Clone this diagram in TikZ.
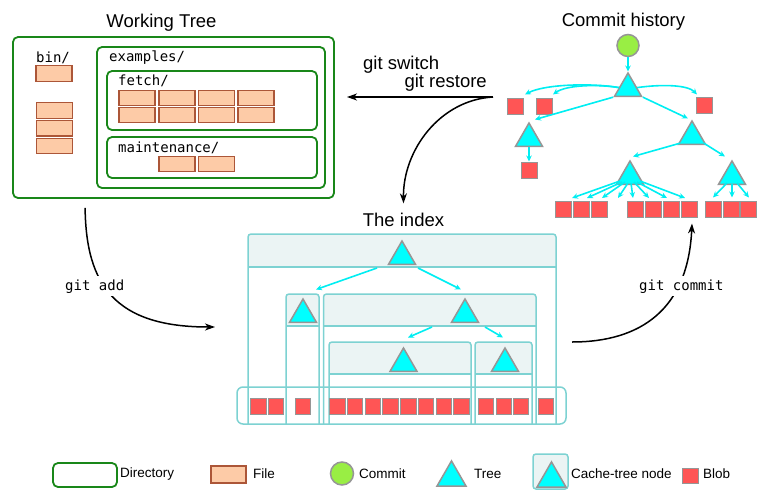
\documentclass[tikz,border=0pt]{standalone}
\usepackage{fontspec}
\setmainfont{Liberation Sans}
\newfontfamily\monof{DejaVu Sans Mono}
\usetikzlibrary{arrows.meta,shapes.geometric,calc}

\definecolor{dirgreen}{RGB}{25,135,25}
\definecolor{filefill}{RGB}{253,203,167}
\definecolor{filedraw}{RGB}{172,86,56}
\definecolor{blobred}{RGB}{255,85,85}
\definecolor{shapegrey}{RGB}{150,150,150}
\definecolor{treecyan}{RGB}{0,255,255}
\definecolor{arrowcyan}{RGB}{0,238,242}
\definecolor{cachedraw}{RGB}{125,210,210}
\definecolor{cachefill}{RGB}{235,244,244}
\definecolor{commitgreen}{RGB}{153,238,68}

\newcommand\mycachebox[4]{%
  \fill[white] (#1,#2) rectangle (#3,424);
  \fill[cachefill,rounded corners=3pt] (#1,#4) -- (#1,#2) -- (#3,#2) -- (#3,#4);
  \draw[cachebox,rounded corners=3pt] (#1,424) -- (#1,#2) -- (#3,#2) -- (#3,424);
  \draw[cachebox] (#1,#4) -- (#3,#4);
}

\begin{document}
\begin{tikzpicture}[x=1pt,y=-1pt,
  dirbox/.style={draw=dirgreen, line width=1.8pt, rounded corners=5pt, inner sep=0pt},
  filebox/.style={draw=filedraw, fill=filefill, line width=1.2pt, minimum width=36pt, minimum height=15.5pt, inner sep=0pt},
  blob/.style={draw=shapegrey, fill=blobred, line width=1pt, minimum size=16pt, inner sep=0pt},
  iblob/.style={blob, minimum size=15.5pt},
  tri/.style={regular polygon, regular polygon sides=3, draw=shapegrey, fill=treecyan, line width=1.5pt, minimum size=31.2pt, inner sep=0pt},
  commitnode/.style={circle, draw=shapegrey, fill=commitgreen, line width=1.5pt, minimum size=22pt, inner sep=0pt},
  carrow/.style={draw=arrowcyan, line width=1.6pt, -{Stealth[length=6pt,width=5.5pt]}},
  karrow/.style={draw=black, line width=1.5pt, -{Stealth[length=10pt,width=7pt,inset=3pt]}},
  title/.style={font=\fontsize{18.5}{20}\selectfont, inner sep=0pt, anchor=base},
  mono/.style={font=\monof\fontsize{14}{16}\selectfont, inner sep=0pt, anchor=base west},
  cachebox/.style={draw=cachedraw, line width=1.5pt},
  legtext/.style={font=\fontsize{13.5}{15}\selectfont, inner sep=0pt, anchor=west},
]
\useasboundingbox (0,0) rectangle (769,501);

% ---------------- Working tree ----------------
\node[title] (wttitle) at (161.5,27) {Working Tree};
\node[dirbox, minimum width=321pt, minimum height=161pt] (wt) at (173.5,117.5) {};
\node[dirbox, minimum width=228pt, minimum height=141pt] (ex) at (211,117.5) {};
\node[dirbox, minimum width=210pt, minimum height=59pt] (fe) at (212,100.5) {};
\node[dirbox, minimum width=210pt, minimum height=41pt] (ma) at (212,157.5) {};

\node[mono] (lbin) at (36,62) {bin/};
\node[mono] (lex) at (109,61) {examples/};
\node[mono] (lfe) at (118,85) {fetch/};
\node[mono] (lma) at (118,152) {maintenance/};

\node[filebox] (fb1) at (54,73.5) {};
\node[filebox] (fb2) at (54.5,110.5) {};
\node[filebox] (fb3) at (54.5,128.2) {};
\node[filebox] (fb4) at (54.5,146) {};
\foreach \x/\i in {137/1,177/2,216.5/3,256/4}{
  \node[filebox] (ff\i a) at (\x,98) {};
  \node[filebox] (ff\i b) at (\x,115) {};
}
\node[filebox] (fm1) at (177,164) {};
\node[filebox] (fm2) at (216.5,164) {};

% ---------------- Commit history ----------------
\node[title] (chtitle) at (623.5,26) {Commit history};
\node[commitnode] (commit) at (628,45.5) {};
\node[tri] (root) at (628,88.6) {};
\node[tri] (lt) at (529,138.6) {};
\node[tri] (rt) at (692,136.6) {};
\node[tri] (sl) at (630,176.6) {};
\node[tri] (sr) at (732,176.6) {};

\node[blob] (b1) at (515,106.5) {};
\node[blob] (b2) at (544,106.5) {};
\node[blob] (b3) at (704.5,105.5) {};
\node[blob] (lb) at (529,170) {};
\foreach \x [count=\i] in {563,581,599,635,653,671,689,713,731,748}{
  \node[blob] (cb\i) at (\x,209) {};
}

\draw[carrow] (commit.south) -- (root.corner 1);
\draw[carrow] ($(root.center)+(-9,-1)$) .. controls (592,83) and (545,84) .. ($(b1.north)+(10,-3.5)$);
\draw[carrow] ($(root.center)+(-9,-1)$) .. controls (598,84) and (566,85) .. ($(b2.north)+(9,-3.5)$);
\draw[carrow] ($(root.center)+(9,-1)$) .. controls (663,84) and (688,85) .. ($(b3.north)+(-7.5,-2.5)$);
\draw[carrow] (root.corner 2) -- ($(lt.corner 1)+(6,-2)$);
\draw[carrow] (root.corner 3) -- ($(rt.corner 1)+(-4,-1)$);
\draw[carrow] (lt.south) -- (lb.north);
\draw[carrow] ($(rt.corner 2)+(3,-2)$) -- ($(sl.corner 1)+(3,-3)$);
\draw[carrow] ($(rt.corner 3)+(-3,-2)$) -- ($(sr.corner 1)+(-7,-3)$);
\foreach \sx/\sy/\ex in {-10/4.4/572,-8/5.4/587,-5/5.4/602,-2/6.4/618,1/6.4/633,4/5.4/649,7/5.4/667,10/4.4/685}{
  \draw[carrow] ($(sl.center)+(\sx,\sy)$) -- (\ex,198);
}
\draw[carrow] ($(sr.center)+(-5,6.4)$) -- ($(cb8.north)+(0,-3)$);
\draw[carrow] ($(sr.center)+(0,7.4)$) -- ($(cb9.north)+(1,-3)$);
\draw[carrow] ($(sr.center)+(5,6.4)$) -- ($(cb10.north)+(1,-3)$);

% ---------------- The index ----------------
\node[title] (idxtitle) at (403.5,226) {The index};
\mycachebox{248}{234}{556}{267}
\mycachebox{286}{294}{319}{326}
\mycachebox{323.5}{294}{536}{326}
\mycachebox{329}{342}{471}{374}
\mycachebox{475}{342}{532}{374}
\draw[cachebox, rounded corners=6pt] (237,387) rectangle (566,424);

\node[tri] (it) at (402,256.6) {};
\node[tri] (i2a) at (303,314.6) {};
\node[tri] (i2b) at (465,314.6) {};
\node[tri] (i3a) at (403.5,363.6) {};
\node[tri] (i3b) at (505,363.6) {};

\draw[carrow] ($(it.center)+(-25,11.4)$) -- ($(i2a.corner 1)+(13,-8)$);
\draw[carrow] ($(it.center)+(16,11.4)$) -- ($(i2b.corner 1)+(-4,-8)$);
\draw[carrow] ($(i2b.center)+(-33,12.4)$) -- ($(i3a.corner 1)+(4.5,-9)$);
\draw[carrow] ($(i2b.center)+(20,12.4)$) -- ($(i3b.corner 1)+(-2,-9)$);

\foreach \x [count=\i] in {258.5,276,303,337.5,355,373,390.5,408.5,426,444,461.5,486,504,521,546}{
  \node[iblob] (ib\i) at (\x,406.5) {};
}

% ---------------- Operations ----------------
\coordinate (gs) at (493,97);
\coordinate (gsend) at (347,97);
\draw[karrow] (gs) -- (gsend);
\draw[karrow] (gs) .. controls (440,100) and (403,150) .. ($(idxtitle.north)+(0,-9)$);
\node[title, anchor=base west] (lswitch) at (363,69) {git switch};
\node[title, anchor=base east] (lrestore) at (487,87) {git restore};

\coordinate (addstart) at ($(wt.south west)+(73,9)$);
\coordinate (addend) at (215,327);
\draw[karrow] (addstart) .. controls (86,285) and (115,327) .. (addend);
\node[mono, fill=white, inner sep=3pt] (ladd) at (62,290) {git add};

\coordinate (commitstart) at (572,342);
\draw[karrow] (commitstart) .. controls (640,342) and (688,310) .. ($(cb7.south)+(3,6)$);
\node[mono, fill=white, inner sep=3pt] (lcommit) at (636,290) {git commit};

% ---------------- Legend ----------------
\node[dirbox, minimum width=64pt, minimum height=24pt] (lgdir) at (85,475) {};
\node[legtext] (tdir) at (120,474) {Directory};
\node[filebox, minimum width=35pt, minimum height=17pt] (lgfile) at (228.5,474.5) {};
\node[legtext] (tfile) at (253,474) {File};
\node[commitnode, minimum size=23pt] (lgcommit) at (342,473.5) {};
\node[legtext] (tcommit) at (359,474) {Commit};
\node[tri, minimum size=33.5pt] (lgtree) at (451.5,477.7) {};
\node[legtext] (ttree) at (474,474) {Tree};
\node[draw=cachedraw, fill=cachefill, line width=1.5pt, rounded corners=3pt, minimum width=35pt, minimum height=35pt, inner sep=0pt] (lgcache) at (550.5,471.5) {};
\node[tri, minimum size=33.5pt] (lgctri) at (551.5,478.7) {};
\node[legtext] (tcache) at (571,474) {Cache-tree node};
\node[blob, minimum width=16pt, minimum height=15pt] (lgblob) at (690,475.5) {};
\node[legtext] (tblob) at (703,474) {Blob};
\end{tikzpicture}
\end{document}
